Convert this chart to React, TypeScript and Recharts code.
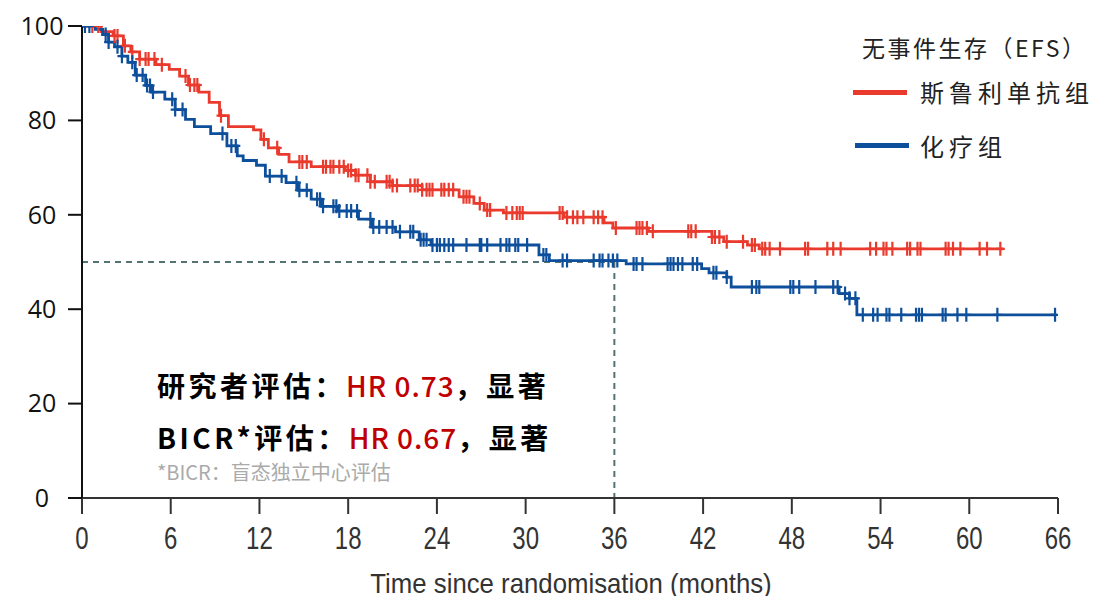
import {
  ComposedChart,
  Line,
  Scatter,
  XAxis,
  YAxis,
  ReferenceLine,
} from 'recharts';

// Kaplan-Meier steps (months, % event-free)
const redTime = [0, 1.3, 2.1, 2.8, 3.3, 3.9, 5.0, 5.9, 6.6, 7.2, 7.9, 8.6, 9.3, 9.9, 11.6, 12.1, 12.6, 13.3, 14.0, 15.5, 17.8, 18.5, 19.5, 21.0, 23.0, 25.5, 26.5, 27.2, 28.5, 32.6, 35.3, 35.9, 38.3, 42.6, 43.4, 45.0, 45.8, 62.3];
const redSurv = [100, 98.8, 97.9, 95.8, 94.5, 93.0, 91.8, 90.8, 89.4, 87.5, 86.0, 83.8, 81.0, 78.7, 78.0, 76.0, 74.2, 72.8, 71.2, 70.2, 69.4, 68.4, 67.0, 66.2, 65.3, 63.8, 62.4, 61.0, 60.4, 59.5, 58.3, 57.2, 56.5, 55.3, 54.3, 53.6, 52.8, 52.8];
const redCensor = [0.7, 1.1, 2.2, 2.4, 2.9, 3.4, 3.9, 4.3, 4.5, 4.9, 5.4, 7.0, 7.3, 7.6, 7.8, 9.4, 12.3, 13.2, 14.7, 14.9, 15.2, 16.3, 16.5, 16.8, 17.0, 17.4, 17.7, 18.0, 18.2, 18.5, 18.7, 19.3, 19.5, 19.8, 20.6, 20.8, 21.0, 21.3, 22.2, 22.5, 22.7, 23.0, 23.3, 23.5, 23.7, 24.3, 24.5, 24.8, 25.1, 25.8, 26.0, 26.2, 26.9, 27.4, 27.6, 28.7, 29.1, 29.4, 29.6, 29.8, 32.3, 32.5, 32.8, 33.2, 33.5, 33.9, 34.6, 34.9, 35.2, 36.1, 37.5, 37.7, 37.9, 38.2, 38.6, 41.0, 41.2, 41.5, 42.6, 42.8, 43.1, 43.6, 44.7, 45.3, 45.5, 46.0, 46.2, 46.5, 47.2, 48.9, 49.1, 50.4, 50.8, 51.3, 53.3, 53.7, 54.2, 54.4, 54.8, 55.8, 56.0, 56.5, 56.7, 58.4, 58.6, 58.9, 59.4, 60.7, 61.2, 62.1];

const blueTime = [0, 0.9, 1.4, 1.8, 2.2, 2.7, 3.1, 3.6, 4.3, 4.7, 5.6, 6.3, 7.0, 7.6, 8.7, 9.8, 10.5, 10.9, 11.8, 12.4, 13.8, 14.6, 15.5, 16.2, 17.3, 18.7, 19.6, 21.2, 22.8, 23.6, 30.9, 31.6, 36.8, 41.9, 42.4, 43.6, 43.9, 51.2, 51.9, 52.4, 65.9];
const blueSurv = [100, 99.3, 98.2, 96.6, 95.6, 93.6, 92.3, 89.6, 87.4, 86.0, 84.5, 82.3, 80.2, 78.7, 77.2, 74.6, 72.5, 71.5, 70.5, 68.2, 66.8, 65.2, 63.3, 61.8, 60.8, 59.1, 57.4, 56.4, 54.7, 53.6, 51.5, 50.3, 49.6, 48.6, 47.7, 46.8, 44.7, 43.3, 42.3, 38.8, 38.8];
const blueCensor = [0.2, 0.5, 1.6, 1.8, 2.4, 2.7, 3.4, 3.7, 4.1, 4.4, 4.6, 4.8, 6.1, 6.3, 6.8, 9.5, 10.1, 10.4, 12.7, 13.5, 14.5, 14.7, 15.2, 15.9, 16.1, 16.3, 17.0, 17.2, 17.4, 17.9, 18.2, 18.6, 19.5, 19.7, 20.1, 20.6, 21.0, 21.5, 22.2, 22.4, 22.9, 23.1, 23.3, 23.7, 24.0, 24.2, 24.5, 24.8, 25.1, 26.0, 26.9, 27.0, 27.4, 28.3, 28.7, 28.9, 29.3, 29.5, 30.1, 31.2, 31.4, 32.5, 32.8, 34.6, 35.0, 35.2, 35.6, 35.9, 36.2, 37.3, 37.5, 37.9, 39.6, 39.8, 40.0, 40.3, 40.6, 41.3, 41.6, 42.7, 42.9, 43.6, 45.3, 45.6, 45.8, 47.9, 48.1, 48.5, 49.6, 50.8, 51.1, 51.6, 51.9, 52.3, 52.8, 53.5, 53.8, 54.4, 54.6, 55.4, 56.4, 56.6, 56.8, 58.2, 58.4, 59.2, 59.8, 61.9, 65.8];

const xTicks = [0, 6, 12, 18, 24, 30, 36, 42, 48, 54, 60, 66];
const yTicks = [0, 20, 40, 60, 80, 100];

const RED = '#ea3a2d';
const BLUE = '#0e4f9c';

const toSteps = (time: number[], surv: number[]) =>
  time.map((t, i) => ({ t, s: surv[i] }));

// y of a censor mark = KM value at that time
const censorPoints = (censor: number[], time: number[], surv: number[]) =>
  censor.map((t) => {
    let s = surv[0];
    for (let i = 0; i < time.length; i++) {
      if (time[i] <= t) s = surv[i];
    }
    return { t, s };
  });

const redLine = toSteps(redTime, redSurv);
const blueLine = toSteps(blueTime, blueSurv);
const redMarks = censorPoints(redCensor, redTime, redSurv);
const blueMarks = censorPoints(blueCensor, blueTime, blueSurv);

const plus = (color: string) => (props: any) => {
  const { cx, cy } = props;
  return (
    <path
      d={`M${cx},${cy - 7}V${cy + 7}M${cx - 4.5},${cy}H${cx + 4.5}`}
      stroke={color}
      strokeWidth={2.2}
      fill="none"
    />
  );
};

// narrow, light tick numbers like the original figure
const XTick = (props: any) => {
  const { x, y, payload } = props;
  return (
    <g transform={`translate(${x},${y})`}>
      <text
        transform="scale(0.75,1)"
        textAnchor="middle"
        dy="0.71em"
        fill="#333"
        fontSize={32}
        fontFamily='"Liberation Sans", Arial, sans-serif'
      >
        {payload.value}
      </text>
    </g>
  );
};

const cjk = '"Noto Sans CJK SC", "Noto Sans", sans-serif';

export default function App() {
  return (
    <div style={{ position: 'relative', width: 1097, height: 604, margin: -8, background: '#fff', overflow: 'hidden' }}>
      <ComposedChart
        width={1097}
        height={604}
        margin={{ top: 26, right: 39, left: 0, bottom: 0 }}
      >
        <XAxis
          type="number"
          dataKey="t"
          domain={[0, 66]}
          ticks={xTicks}
          allowDataOverflow
          height={106}
          tickSize={16}
          tickMargin={12}
          axisLine={{ stroke: '#333', strokeWidth: 2 }}
          tickLine={{ stroke: '#333', strokeWidth: 2 }}
          tick={<XTick />}
        />
        <YAxis
          type="number"
          dataKey="s"
          domain={[0, 100]}
          ticks={yTicks}
          allowDataOverflow
          width={82}
          tickSize={14}
          tickMargin={26}
          axisLine={{ stroke: '#111', strokeWidth: 2 }}
          tickLine={{ stroke: '#111', strokeWidth: 2 }}
          tick={{ fill: '#111', fontSize: 25, fontFamily: '"Open Sans", sans-serif', textAnchor: 'middle' }}
        />
        <ReferenceLine
          segment={[{ x: 0, y: 50 }, { x: 36, y: 50 }]}
          stroke="#557373"
          strokeWidth={2}
          strokeDasharray="6 5"
        />
        <ReferenceLine
          segment={[{ x: 36, y: 50 }, { x: 36, y: 0 }]}
          stroke="#557373"
          strokeWidth={2}
          strokeDasharray="6 5"
        />
        <Line
          data={redLine}
          dataKey="s"
          type="stepAfter"
          stroke={RED}
          strokeWidth={2.8}
          dot={false}
          activeDot={false}
          isAnimationActive={false}
        />
        <Line
          data={blueLine}
          dataKey="s"
          type="stepAfter"
          stroke={BLUE}
          strokeWidth={2.8}
          dot={false}
          activeDot={false}
          isAnimationActive={false}
        />
        <Scatter data={redMarks} dataKey="s" shape={plus(RED)} isAnimationActive={false} />
        <Scatter data={blueMarks} dataKey="s" shape={plus(BLUE)} isAnimationActive={false} />
      </ComposedChart>

      {/* x axis title */}
      <div
        style={{
          position: 'absolute',
          left: 571,
          top: 570,
          fontFamily: '"Liberation Sans", Arial, sans-serif',
          fontSize: 28,
          lineHeight: '28px',
          color: '#333',
          whiteSpace: 'nowrap',
          transform: 'translateX(-50%) scaleX(0.92)',
        }}
      >
        Time since randomisation (months)
      </div>

      {/* legend */}
      <div style={{ position: 'absolute', left: 862, top: 35, fontFamily: cjk, fontSize: 23, lineHeight: '24px', letterSpacing: 2.5, color: '#222', whiteSpace: 'nowrap' }}>
        无事件生存（EFS）
      </div>
      <div style={{ position: 'absolute', left: 853, top: 90, width: 54, height: 5, background: RED }} />
      <div style={{ position: 'absolute', left: 920, top: 80, fontFamily: cjk, fontSize: 24, lineHeight: '24px', letterSpacing: 5, color: '#222', whiteSpace: 'nowrap' }}>
        斯鲁利单抗组
      </div>
      <div style={{ position: 'absolute', left: 855, top: 143, width: 54, height: 5, background: BLUE }} />
      <div style={{ position: 'absolute', left: 920, top: 134, fontFamily: cjk, fontSize: 24, lineHeight: '24px', letterSpacing: 5, color: '#222', whiteSpace: 'nowrap' }}>
        化疗组
      </div>

      {/* annotations */}
      <div style={{ position: 'absolute', left: 157, top: 371, fontFamily: cjk, fontSize: 28, lineHeight: '28px', fontWeight: 700, letterSpacing: 3.5, color: '#000', whiteSpace: 'nowrap' }}>
        研究者评估：<span style={{ color: '#c00000', fontWeight: 500, letterSpacing: 1 }}>HR 0.73</span>，显著
      </div>
      <div style={{ position: 'absolute', left: 157, top: 423, fontFamily: cjk, fontSize: 28, lineHeight: '28px', fontWeight: 700, letterSpacing: 3.5, color: '#000', whiteSpace: 'nowrap' }}>
        BICR*评估：<span style={{ color: '#c00000', fontWeight: 500, letterSpacing: 1 }}>HR 0.67</span>，显著
      </div>
      <div style={{ position: 'absolute', left: 157, top: 461, fontFamily: cjk, fontSize: 20, lineHeight: '22px', color: '#aaa', whiteSpace: 'nowrap' }}>
        *BICR：盲态独立中心评估
      </div>
    </div>
  );
}
